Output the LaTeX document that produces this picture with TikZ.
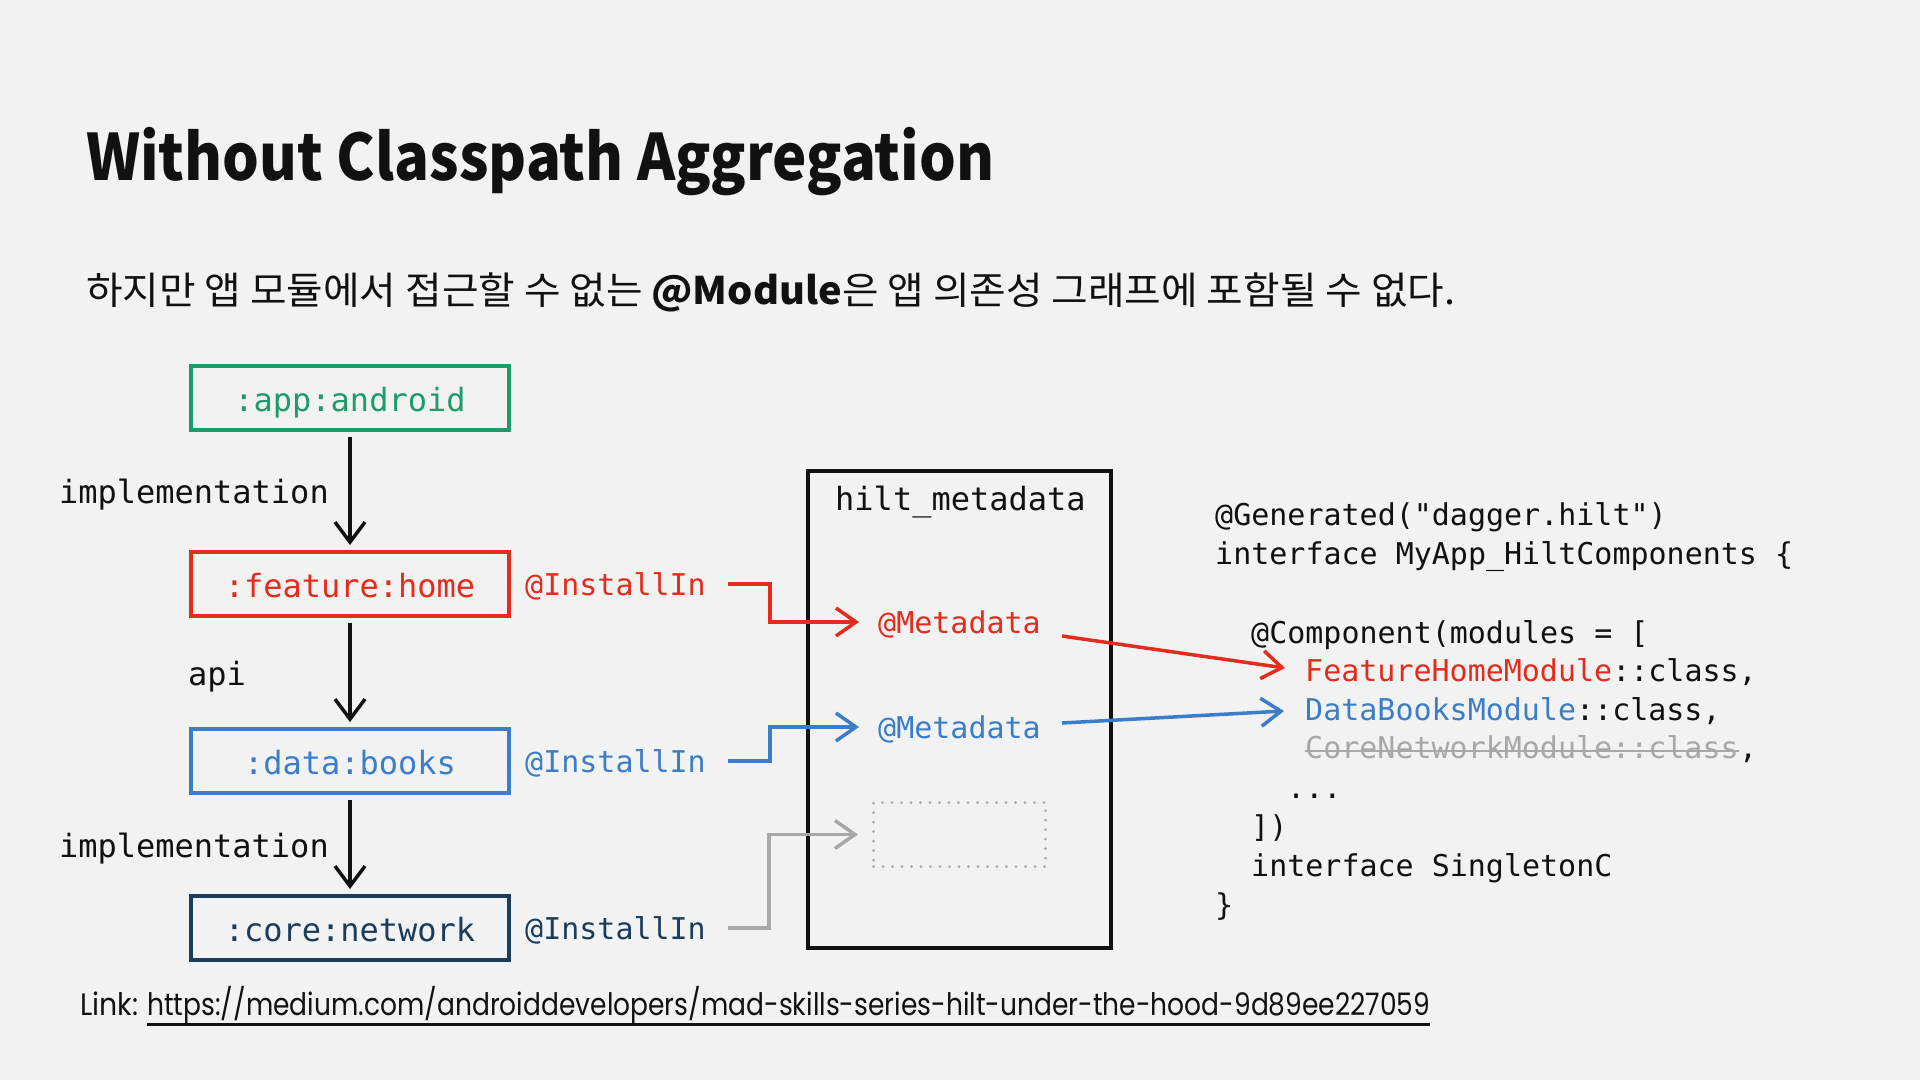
\documentclass[tikz,border=0pt]{standalone}
\usepackage{fontspec}
\usepackage{graphicx}
\usetikzlibrary{arrows.meta}
\setmainfont{Noto Sans CJK KR}
\newfontfamily\krfont{Noto Sans CJK KR}
\newfontfamily\monof{DejaVu Sans Mono}
\newfontfamily\linkfont{Poppins}
\definecolor{bgc}{HTML}{F2F2F2}
\definecolor{cgreen}{HTML}{1F9A6A}
\definecolor{cred}{HTML}{E42C1D}
\definecolor{cblue}{HTML}{3A7DC8}
\definecolor{cnavy}{HTML}{1B3D5C}
\definecolor{cgray}{HTML}{A8A8A8}
\definecolor{ink}{HTML}{111111}
\begin{document}
\begin{tikzpicture}[x=1pt,y=-1pt,
  modbox/.style={draw, line width=4pt, minimum width=318pt, minimum height=64pt, inner sep=0pt, text height=26pt, text depth=0pt, font=\monof\fontsize{32}{32}\selectfont},
  lbl32/.style={inner sep=0pt, font=\monof\fontsize{32}{32}\selectfont, text=ink},
  lbl30/.style={inner sep=0pt, text height=22pt, text depth=0pt, font=\monof\fontsize{30}{30}\selectfont},
  code/.style={lbl30, anchor=base west, text=ink},
  deparr/.style={draw=ink, line width=3.5pt, -{Straight Barb[length=20pt,width=30pt]}, shorten <=5pt, shorten >=5pt},
  conn/.style={line width=3.5pt, -{Straight Barb[length=20pt,width=28pt]}},
]
\fill[bgc] (0,0) rectangle (1920,1080);
\useasboundingbox (0,0) rectangle (1920,1080);

% title and subtitle
\node[anchor=base west, inner sep=0pt, font=\krfont\bfseries\fontsize{64}{64}\selectfont, text=ink] (title) at (86,180) {\resizebox{908pt}{\height}{Without Classpath Aggregation}};
\node[anchor=base west, inner sep=0pt, font=\krfont\fontsize{38}{38}\selectfont, text=ink] (sub) at (86,304) {\resizebox{1369pt}{\height}{하지만 앱 모듈에서 접근할 수 없는 \textbf{@Module}은 앱 의존성 그래프에 포함될 수 없다.}};

% module boxes
\node[modbox, draw=cgreen, text=cgreen] (app) at (350,398) {:app:android};
\node[modbox, draw=cred, text=cred] (feat) at (350,584) {:feature:home};
\node[modbox, draw=cblue, text=cblue] (books) at (350,761) {:data:books};
\node[modbox, draw=cnavy, text=cnavy] (core) at (350,928) {:core:network};

\draw[deparr] (app) -- (feat);
\draw[deparr] (feat) -- (books);
\draw[deparr] (books) -- (core);

\node[lbl32, anchor=base east] (impl1) at (329,503) {implementation};
\node[lbl32, anchor=base east] (api) at (246,685) {api};
\node[lbl32, anchor=base east] (impl2) at (329,857) {implementation};

% InstallIn labels
\node[lbl30, anchor=base west, text=cred] (inst1) at (525,595) {@InstallIn};
\node[lbl30, anchor=base west, text=cblue] (inst2) at (525,772) {@InstallIn};
\node[lbl30, anchor=base west, text=cnavy] (inst3) at (525,939) {@InstallIn};

% hilt_metadata box
\node[draw=ink, line width=4pt, minimum width=303pt, minimum height=477pt, inner sep=0pt] (hilt) at (959.5,709.5) {};
\node[lbl32, anchor=base west] (hiltlbl) at (835,510) {hilt\_metadata};
\node[lbl30, anchor=base west, text=cred] (meta1) at (878,633) {@Metadata};
\node[lbl30, anchor=base west, text=cblue] (meta2) at (878,738) {@Metadata};
\node[draw=cgray, line width=3pt, dash pattern=on 0pt off 9.5pt, line cap=round, minimum width=172pt, minimum height=64pt, inner sep=0pt] (ph) at (959.5,834.5) {};

\draw[conn, draw=cred] ([xshift=22pt]inst1.east) -| ([xshift=-108pt]meta1.west) -- ([xshift=-19pt]meta1.west);
\draw[conn, draw=cblue] ([xshift=22pt]inst2.east) -| ([xshift=-108pt]meta2.west) -- ([xshift=-19pt]meta2.west);
\draw[conn, draw=cgray] ([xshift=22pt]inst3.east) -| ([xshift=-103pt]ph.west) -- ([xshift=-14pt]ph.west);

% code
\node[code] (c1) at (1215,525) {@Generated("dagger.hilt")};
\node[code] (c2) at (1215,564) {interface MyApp\_HiltComponents \{};
\node[code] (c4) at (1251,643) {@Component(modules = [};
\node[code] (fh) at (1305,681) {\textcolor{cred}{FeatureHomeModule}::class,};
\node[code] (db) at (1305,720) {\textcolor{cblue}{DataBooksModule}::class,};
\node[code, text=cgray] (cn) at (1305,758) {CoreNetworkModule::class};
\node[code] (cncomma) at (cn.base east) {,};
\draw[cgray, line width=2pt] ([yshift=7pt]cn.base west) -- ([yshift=7pt]cn.base east);
\node[code] (dots) at (1287,798) {...};
\node[code] (c8) at (1251,837) {])};
\node[code] (c9) at (1251,876) {interface SingletonC};
\node[code] (c10) at (1215,915) {\}};

\draw[conn, draw=cred] ([xshift=21pt,yshift=-14pt]meta1.east) -- ([xshift=-20pt,yshift=2pt]fh.west);
\draw[conn, draw=cblue] ([xshift=21pt,yshift=4pt]meta2.east) -- ([xshift=-21pt,yshift=-2pt]db.west);

% link
\node[anchor=base west, inner sep=0pt, font=\linkfont\fontsize{31}{31}\selectfont, text=ink] (lnk) at (80,1015) {\resizebox{58pt}{\height}{Link:}};
\node[anchor=base west, inner sep=0pt, font=\linkfont\fontsize{31}{31}\selectfont, text=ink] (url) at (147,1015) {\resizebox{1283pt}{\height}{https://medium.com/androiddevelopers/mad-skills-series-hilt-under-the-hood-9d89ee227059}};
\draw[ink, line width=2.5pt] ([yshift=-9.5pt]url.base west) -- ([yshift=-9.5pt]url.base east);
\end{tikzpicture}
\end{document}
